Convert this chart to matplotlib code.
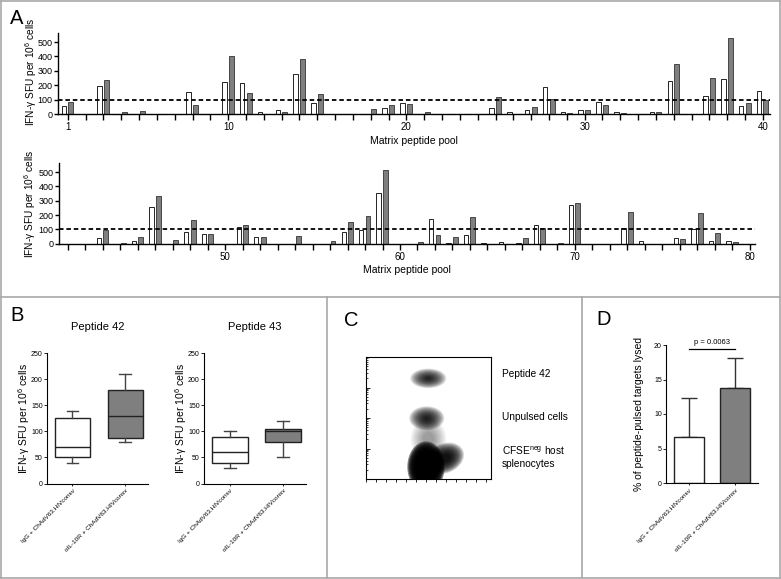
import numpy as np
import matplotlib
matplotlib.use('Agg')
import matplotlib.pyplot as plt
from matplotlib.patches import Ellipse
from matplotlib.lines import Line2D
from matplotlib.ticker import FixedLocator

plt.rcParams['font.family'] = ['Liberation Sans', 'DejaVu Sans']
plt.rcParams['mathtext.fontset'] = 'custom'
plt.rcParams['mathtext.rm'] = 'Liberation Sans'
plt.rcParams['mathtext.it'] = 'Liberation Sans:italic'
plt.rcParams['mathtext.bf'] = 'Liberation Sans:bold'

W, H = 781, 579

# panel A: IFN-g ELISpot per matrix pool (white = IgG, gray = aIL-10R)
pools_top = list(range(1, 41))
white_top = [56, 0, 197, 0, 0, 0, 0, 150, 0, 222,
             213, 12, 28, 278, 74, 0, 0, 0, 39, 74,
             0, 0, 0, 0, 42, 12, 25, 185, 12, 25,
             81, 16, 2, 14, 231, 0, 127, 241, 53, 157]
gray_top = [83, 0, 236, 12, 21, 0, 0, 65, 0, 403,
            143, 0, 14, 384, 139, 0, 0, 37, 62, 67,
            14, 0, 0, 0, 120, 0, 46, 102, 9, 30,
            60, 5, 0, 14, 350, 0, 248, 530, 74, 100]
pools_bottom = list(range(41, 81))
white_bottom = [0, 0, 37, 0, 19, 256, 0, 80, 69, 0,
                113, 45, 0, 0, 0, 0, 81, 98, 357, 0,
                0, 170, 7, 58, 3, 12, 7, 131, 0, 267,
                0, 0, 107, 16, 0, 40, 102, 19, 16, 0]
gray_bottom = [0, 0, 95, 5, 44, 330, 26, 167, 69, 0,
               129, 45, 0, 53, 0, 20, 149, 193, 516, 0,
               12, 63, 47, 184, 0, 0, 42, 112, 7, 283,
               0, 0, 218, 0, 0, 33, 216, 72, 9, 0]
threshold = 100

# panel B: box plots
groups = ['IgG + ChAdV63.HIVconsv', 'αIL-10R + ChAdV63.HIVconsv']
pep42_whislo = [40, 80]
pep42_q1 = [50, 88]
pep42_med = [70, 130]
pep42_q3 = [125, 180]
pep42_whishi = [140, 210]
pep43_whislo = [30, 50]
pep43_q1 = [40, 80]
pep43_med = [60, 100]
pep43_q3 = [90, 105]
pep43_whishi = [100, 120]

# panel C: flow cytometry populations (centre, core size, angle, spread, density)
pop_labels = ['Peptide 42', 'Unpulsed cells', 'CFSE$^{\\mathrm{neg}}$ host\nsplenocytes']
blob_x = [49.8, 48.6, 50.0, 48.0, 63.0]
blob_y = [82.5, 49.8, 33.0, 10.0, 17.0]
blob_w = [9, 10, 22, 23, 20]
blob_h = [5, 7, 26, 32, 15]
blob_angle = [0, 0, 0, 0, 25]
blob_spread = [3.2, 2.8, 1.3, 1.3, 1.6]
blob_alpha = [0.12, 0.13, 0.03, 0.45, 0.17]

# panel D: specific lysis
lysis_mean = [6.7, 13.7]
lysis_upper = [12.3, 18.1]
p_text = 'p = 0.0063'

white_c = 'white'
gray_c = '#7f7f7f'
ylab_ifn = 'IFN-γ SFU per 10$^{6}$ cells'

fig = plt.figure(figsize=(W / 100, H / 100), dpi=100)


def px_axes(left, top, right, bottom):
    return fig.add_axes([left / W, 1 - bottom / H, (right - left) / W, (bottom - top) / H])


def px_line(x0, y0, x1, y1):
    fig.add_artist(Line2D([x0 / W, x1 / W], [1 - y0 / H, 1 - y1 / H],
                          transform=fig.transFigure, color='#a8a8a8', lw=1.2))


def px_text(x, y, s, **kw):
    fig.text(x / W, 1 - y / H, s, **kw)


def clean(ax, lw=1.0):
    ax.spines['top'].set_visible(False)
    ax.spines['right'].set_visible(False)
    ax.spines['left'].set_linewidth(lw)
    ax.spines['bottom'].set_linewidth(lw)


def pool_panel(ax, pools, white, gray, xlim, labelled, xlab_y):
    x = np.array(pools)
    ax.bar(x - 0.22, white, width=0.25, color=white_c, edgecolor='black', lw=0.6)
    ax.bar(x + 0.17, gray, width=0.28, color=gray_c, edgecolor='#333333', lw=0.6)
    ax.axhline(threshold, color='black', lw=1.3, ls=(0, (2.5, 1.6)))
    ax.set_xlim(xlim)
    ax.set_ylim(0, 560)
    ax.set_yticks(range(0, 501, 100))
    ax.xaxis.set_major_locator(FixedLocator(labelled))
    ax.xaxis.set_minor_locator(FixedLocator(pools))
    ax.tick_params(axis='x', which='both', direction='out', length=4, width=1)
    ax.tick_params(axis='x', labelsize=7, pad=2)
    ax.tick_params(axis='y', direction='out', length=3, width=1, labelsize=6.5, pad=1)
    clean(ax)
    ax.set_xlabel('Matrix peptide pool', fontsize=7.5)
    ax.xaxis.set_label_coords(0.5, xlab_y)
    ax.set_ylabel(ylab_ifn, fontsize=7.3, va='center')


# ---- panel A
axA1 = px_axes(58, 33.4, 770, 114)
pool_panel(axA1, pools_top, white_top, gray_top, (0.45, 40.4), [1, 10, 20, 30, 40], -0.27)
axA1.yaxis.set_label_coords(-0.038, 0.52)

axA2 = px_axes(59, 163.4, 755, 243.7)
pool_panel(axA2, pools_bottom, white_bottom, gray_bottom, (40.5, 80.3), [50, 60, 70, 80], -0.27)
axA2.yaxis.set_label_coords(-0.041, 0.5)


# ---- panel B
def box_panel(ax, title, whislo, q1, med, q3, whishi):
    stats = []
    for i in range(2):
        stats.append({'whislo': whislo[i], 'q1': q1[i], 'med': med[i],
                      'q3': q3[i], 'whishi': whishi[i]})
    bp = ax.bxp(stats, positions=[1, 2], widths=0.67, patch_artist=True, showfliers=False,
                capwidths=0.22,
                boxprops=dict(edgecolor='#222222', lw=1.0),
                medianprops=dict(color='#222222', lw=1.0),
                whiskerprops=dict(color='#444444', lw=1.0),
                capprops=dict(color='#444444', lw=1.0))
    for patch, c in zip(bp['boxes'], [white_c, gray_c]):
        patch.set_facecolor(c)
    ax.set_xlim(0.52, 2.43)
    ax.set_ylim(0, 250)
    ax.set_yticks(range(0, 251, 50))
    ax.set_xticks([1, 2])
    ax.set_xticklabels(groups, rotation=45, ha='right', rotation_mode='anchor', fontsize=4.6)
    ax.tick_params(axis='x', length=1.5, width=0.6, pad=2)
    ax.tick_params(axis='y', length=2, width=0.6, labelsize=5, pad=1)
    clean(ax, 0.8)
    ax.set_title(title, fontsize=8, pad=17)
    ax.set_ylabel(ylab_ifn, fontsize=7.5, va='center')


axB1 = px_axes(47, 353.3, 148, 483.5)
box_panel(axB1, 'Peptide 42', pep42_whislo, pep42_q1, pep42_med, pep42_q3, pep42_whishi)
axB1.yaxis.set_label_coords(-0.225, 0.5)

axB2 = px_axes(204, 353.3, 306, 483.5)
box_panel(axB2, 'Peptide 43', pep43_whislo, pep43_q1, pep43_med, pep43_q3, pep43_whishi)
axB2.yaxis.set_label_coords(-0.225, 0.5)

# ---- panel C
axC = px_axes(366, 357, 491, 479)
axC.set_xlim(0, 100)
axC.set_ylim(0, 100)
for i in range(len(blob_x)):
    # stacked translucent ellipses -> dark core fading outwards
    for scale in np.linspace(blob_spread[i], 0.4, 14):
        e = Ellipse((blob_x[i], blob_y[i]), blob_w[i] * scale, blob_h[i] * scale,
                    angle=blob_angle[i], color='black', lw=0, alpha=blob_alpha[i])
        axC.add_patch(e)
for s in axC.spines.values():
    s.set_linewidth(0.8)
left_major = [0, 25, 50, 75, 100]
left_minor = [d + 25 * np.log10(k) for d in left_major[:-1] for k in range(2, 10)]
axC.yaxis.set_major_locator(FixedLocator(left_major))
axC.yaxis.set_minor_locator(FixedLocator(left_minor))
axC.xaxis.set_major_locator(FixedLocator(np.arange(0, 101, 8)))
axC.tick_params(axis='y', which='both', direction='in', labelleft=False)
axC.tick_params(axis='y', which='major', length=3, width=0.6)
axC.tick_params(axis='y', which='minor', length=1.5, width=0.5)
axC.tick_params(axis='x', direction='out', length=2, width=0.6, labelbottom=False)
for lab, y in zip(pop_labels, [374, 417, 457]):
    px_text(502, y, lab, fontsize=7.3, va='center', ha='left', linespacing=1.3)

# ---- panel D
axD = px_axes(666, 345, 758, 483)
xd = np.arange(2)
axD.bar(xd, lysis_mean, width=0.67, color=[white_c, gray_c], edgecolor='#222222', lw=1.0, zorder=2)
err_up = np.array(lysis_upper) - np.array(lysis_mean)
axD.errorbar(xd, lysis_mean, yerr=[np.zeros(2), err_up], fmt='none', ecolor='#333333',
             elinewidth=1.0, capsize=6, capthick=1.0, zorder=1)
axD.plot([0, 1], [19.4, 19.4], color='black', lw=0.9, clip_on=False)
axD.text(0.5, 19.9, p_text, ha='center', va='bottom', fontsize=5.5)
axD.set_xlim(-0.5, 1.5)
axD.set_ylim(0, 20)
axD.set_yticks(range(0, 21, 5))
axD.set_xticks(xd)
axD.set_xticklabels(groups, rotation=45, ha='right', rotation_mode='anchor', fontsize=4.6)
axD.tick_params(axis='x', length=1.5, width=0.6, pad=2)
axD.tick_params(axis='y', length=2, width=0.6, labelsize=5, pad=1)
clean(axD, 0.8)
axD.set_ylabel('% of peptide-pulsed targets lysed', fontsize=7.5, va='center')
axD.yaxis.set_label_coords(-0.29, 0.5)

# ---- panel letters and frame
px_text(16.5, 18, 'A', fontsize=14.5, ha='center', va='center')
px_text(17.5, 315.5, 'B', fontsize=14.5, ha='center', va='center')
px_text(351, 320, 'C', fontsize=14.5, ha='center', va='center')
px_text(603.5, 319.5, 'D', fontsize=14.5, ha='center', va='center')

px_line(1, 1, 780, 1)
px_line(1, 578, 780, 578)
px_line(1, 1, 1, 578)
px_line(780, 1, 780, 578)
px_line(1, 297, 780, 297)
px_line(327, 297, 327, 578)
px_line(582, 297, 582, 578)

fig.savefig('out.png', dpi=100)
